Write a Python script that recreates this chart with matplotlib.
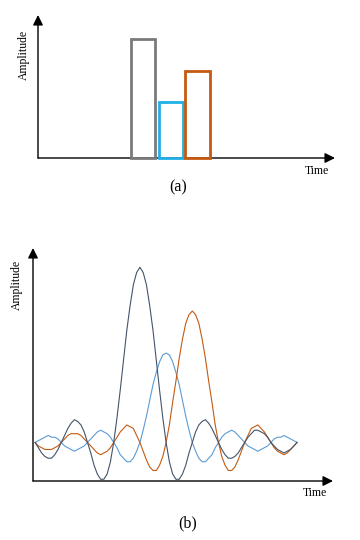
"""Pulse amplitudes (a) and their sinc-shaped spectra (b)."""

import numpy as np
import matplotlib.pyplot as plt

plt.rcParams['font.family'] = ['Liberation Serif', 'DejaVu Serif']

# panel (a): rectangular pulses
pulse_start = [3.5, 4.55, 5.55]
pulse_width = 0.93
pulse_height = [1.0, 0.47, 0.73]
pulse_color = ['#7a7a7a', '#1fb0e6', '#c55a11']

# panel (b): three overlapping curves, read every 0.125 time units
time = np.linspace(-4, 6, 81)
dark = [0.22, 0.19, 0.16, 0.14, 0.13, 0.13, 0.15, 0.18, 0.22, 0.26,
        0.30, 0.33, 0.35, 0.34, 0.32, 0.28, 0.22, 0.16, 0.09, 0.04,
        0.01, 0.01, 0.04, 0.11, 0.22, 0.36, 0.52, 0.69, 0.86, 1.00,
        1.12, 1.19, 1.22,
        1.19, 1.12, 1.00, 0.86, 0.69, 0.52, 0.36, 0.22, 0.11, 0.04,
        0.01, 0.01, 0.04, 0.09, 0.16, 0.22, 0.28, 0.32, 0.34, 0.35,
        0.33, 0.30, 0.26, 0.22, 0.18, 0.15, 0.13, 0.13, 0.14, 0.16,
        0.19, 0.22,
        0.25, 0.27, 0.29, 0.29, 0.28, 0.27, 0.25, 0.22, 0.20, 0.18,
        0.17, 0.16, 0.17, 0.18, 0.20, 0.22]
blue = [0.22, 0.23, 0.24, 0.25, 0.26, 0.25, 0.25, 0.24, 0.22, 0.20,
        0.19, 0.18, 0.17, 0.18, 0.19, 0.20, 0.22, 0.24, 0.26, 0.28,
        0.29, 0.28, 0.27, 0.25, 0.22, 0.19, 0.15, 0.13, 0.11, 0.11,
        0.13, 0.17, 0.22, 0.29, 0.37, 0.46, 0.55, 0.62, 0.68, 0.72,
        0.73,
        0.72, 0.68, 0.62, 0.55, 0.46, 0.37, 0.29, 0.22, 0.17, 0.13,
        0.11, 0.11, 0.13, 0.15, 0.19, 0.22, 0.25, 0.27, 0.28, 0.29,
        0.28, 0.26, 0.24, 0.22, 0.20, 0.19, 0.18, 0.17, 0.18, 0.19,
        0.20, 0.22, 0.24, 0.25, 0.25, 0.26, 0.25, 0.24, 0.23, 0.22]
orange = [0.22, 0.20, 0.19, 0.18, 0.18, 0.18, 0.19, 0.20, 0.22, 0.24,
          0.26, 0.27, 0.27, 0.27, 0.26, 0.24, 0.22, 0.20, 0.18, 0.16,
          0.15, 0.16, 0.17, 0.19, 0.22, 0.25, 0.28, 0.30, 0.32, 0.31,
          0.30, 0.26, 0.22, 0.17, 0.12, 0.08, 0.06, 0.06, 0.09, 0.14,
          0.22, 0.32, 0.45, 0.57, 0.70, 0.81, 0.90, 0.95, 0.97,
          0.95, 0.90, 0.81, 0.70, 0.57, 0.45, 0.32, 0.22, 0.14, 0.09,
          0.06, 0.06, 0.08, 0.12, 0.17, 0.22, 0.26, 0.30, 0.31, 0.32,
          0.30, 0.28, 0.25, 0.22, 0.19, 0.17, 0.16, 0.15, 0.16, 0.18,
          0.20, 0.22]
curve_color = {'dark': '#44546a', 'blue': '#5b9bd5', 'orange': '#c55a11'}

W, H = 360, 540


def add_frame(ax, label_x, label_y, time_y):
    """Hide spines and draw the two arrow axes with their labels."""
    for s in ax.spines.values():
        s.set_visible(False)
    ax.set_xticks([])
    ax.set_yticks([])
    arrow = dict(arrowstyle='-|>,head_length=0.5,head_width=0.25',
                 color='black', lw=1.0, mutation_scale=12,
                 shrinkA=0, shrinkB=0)
    ax.annotate('', xy=(1, 0), xytext=(0, 0), xycoords='axes fraction',
                arrowprops=arrow, zorder=1)
    ax.annotate('', xy=(0, 1), xytext=(0, 0), xycoords='axes fraction',
                arrowprops=arrow, zorder=1)
    ax.text(label_x, label_y, 'Amplitude', rotation=90, ha='center',
            va='center', fontsize=8.5, transform=ax.transAxes)
    ax.text(0.94, time_y, 'Time', ha='center', va='center',
            fontsize=8.5, transform=ax.transAxes)


fig = plt.figure(figsize=(W / 100, H / 100), dpi=100)

# (a)
ax1 = fig.add_axes([38 / W, (H - 158) / H, (335 - 38) / W, (158 - 15) / H])
ax1.set_xlim(0, 11.2)
ax1.set_ylim(0, 1.2)
for x0, h, c in zip(pulse_start, pulse_height, pulse_color):
    ax1.bar(x0, h, width=pulse_width, align='edge', fill=False, edgecolor=c,
            linewidth=2.0, zorder=3, clip_on=False)
add_frame(ax1, -0.047, 0.72, -0.09)
fig.text(178 / W, 1 - 187 / H, '(a)', ha='center', va='center', fontsize=11.5)

# (b)
ax2 = fig.add_axes([33 / W, (H - 481) / H, (333 - 33) / W, (481 - 248) / H])
ax2.set_xlim(-4.08, 7.37)
ax2.set_ylim(0, 1.33)
for name in ['blue', 'orange', 'dark']:
    ax2.plot(time, globals()[name], color=curve_color[name], linewidth=0.8,
             zorder=3)
add_frame(ax2, -0.053, 0.84, -0.05)
fig.text(188 / W, 1 - 523 / H, '(b)', ha='center', va='center', fontsize=11.5)

fig.savefig('out.png', dpi=100)
